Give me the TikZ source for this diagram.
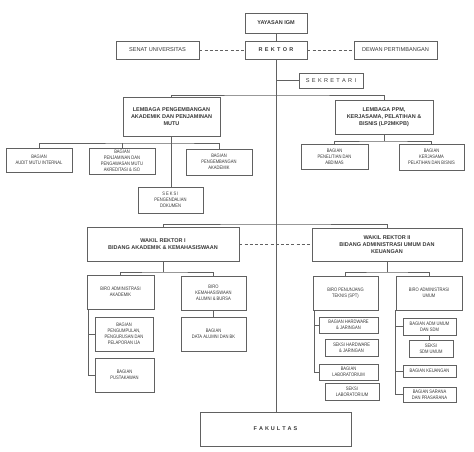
\documentclass[tikz,border=0pt]{standalone}
\usepackage{fontspec}
\setmainfont{Liberation Sans}
\newfontfamily\nf{Liberation Sans}[FakeStretch=0.82]
\definecolor{ink}{gray}{0.22}
\definecolor{lc}{gray}{0.38}
\newcommand{\lsk}{\kern2.3pt}
\tikzset{
  box/.style={draw=lc, line width=0.6pt, inner sep=0.5pt, align=center, text=ink},
  sm/.style={box, font=\nf\fontsize{5}{5.9}\selectfont},
  md/.style={box, font=\fontsize{5.6}{6.6}\selectfont},
  ttl/.style={box, font=\bfseries\fontsize{5.5}{6.9}\selectfont},
  ln/.style={draw=lc, line width=0.55pt},
  dsh/.style={ln, dash pattern=on 3pt off 2.2pt},
}
\begin{document}
\begin{tikzpicture}[x=1pt,y=-1pt]
\useasboundingbox (0,0) rectangle (474,451);
\fill[white] (0,0) rectangle (474,451);
% top
\node[ttl, minimum width=62pt, minimum height=20pt] (yayasan) at (276,23) {YAYASAN IGM};
\node[ttl, minimum width=62pt, minimum height=18pt] (rektor) at (276,50) {R\lsk E\lsk K\lsk T\lsk O\lsk R};
\node[md, minimum width=83pt, minimum height=18pt] (senat) at (157.5,50) {SENAT UNIVERSITAS};
\node[md, minimum width=83pt, minimum height=18pt] (dewan) at (395.5,50) {DEWAN PERTIMBANGAN};
\node[md, minimum width=64pt, minimum height=15pt] (sekretari) at (331,80.5) {S\lsk E\lsk K\lsk R\lsk E\lsk T\lsk A\lsk R\lsk I};
% lembaga
\node[ttl, minimum width=97pt, minimum height=39pt] (lpam) at (171.5,116.5) {LEMBAGA PENGEMBANGAN\\AKADEMIK DAN PENJAMINAN\\MUTU};
\node[ttl, minimum width=98pt, minimum height=34pt] (lppm) at (384,117) {LEMBAGA PPM,\\KERJASAMA, PELATIHAN \&\\BISNIS (LP2MKPB)};
\node[sm, minimum width=66pt, minimum height=24pt] (audit) at (39,160) {BAGIAN\\AUDIT MUTU INTERNAL};
\node[sm, minimum width=66pt, minimum height=26pt] (penjaminan) at (122,161) {BAGIAN\\PENJAMINAN DAN\\PENGAWASAN MUTU\\AKREDITASI \& ISO};
\node[sm, minimum width=66pt, minimum height=26pt] (pengembangan) at (219,162) {BAGIAN\\PENGEMBANGAN\\AKADEMIK};
\node[sm, minimum width=65pt, minimum height=26pt] (seksipd) at (170.5,200) {S\kern1pt E\kern1pt K\kern1pt S\kern1pt I\\PENGENDALIAN\\DOKUMEN};
\node[sm, minimum width=67pt, minimum height=25pt] (penelitian) at (334.5,156.5) {BAGIAN\\PENELITIAN DAN\\ABDIMAS};
\node[sm, minimum width=65pt, minimum height=26pt] (kerjasama) at (431.5,157) {BAGIAN\\KERJASAMA\\PELATIHAN DAN BISNIS};
% wakil rektor
\node[ttl, minimum width=152pt, minimum height=34pt] (wr1) at (163,244) {WAKIL REKTOR I\\BIDANG AKADEMIK \& KEMAHASISWAAN};
\node[ttl, minimum width=150pt, minimum height=33pt] (wr2) at (387,244.5) {WAKIL REKTOR II\\BIDANG ADMINISTRASI UMUM DAN\\KEUANGAN};
\node[sm, minimum width=67pt, minimum height=34pt] (biroakad) at (120.5,292) {BIRO ADMINISTRASI\\AKADEMIK};
\node[sm, minimum width=65pt, minimum height=34pt] (birokema) at (213.5,293) {BIRO\\KEMAHASISWAAN\\ALUMNI \& BURSA};
\node[sm, minimum width=58pt, minimum height=34pt] (pengumpulan) at (124,334) {BAGIAN\\PENGUMPULAN,\\PENGURUSAN DAN\\PELAPORAN IJA};
\node[sm, minimum width=59pt, minimum height=34pt] (pustakawan) at (124.5,375) {BAGIAN\\PUSTAKAWAN};
\node[sm, minimum width=65pt, minimum height=34pt] (dataalumni) at (213.5,334) {BAGIAN\\DATA ALUMNI DAN BK};
\node[sm, minimum width=65pt, minimum height=34pt] (spt) at (345.5,293) {BIRO PENUNJANG\\TEKNIS (SPT)};
\node[sm, minimum width=66pt, minimum height=34pt] (biroumum) at (429,293) {BIRO ADMINISTRASI\\UMUM};
\node[sm, minimum width=59pt, minimum height=16pt] (hardware) at (348.5,325) {BAGIAN HARDWARE\\\& JARINGAN};
\node[sm, minimum width=53pt, minimum height=17pt] (seksihw) at (351.5,347.5) {SEKSI HARDWARE\\\& JARINGAN};
\node[sm, minimum width=59pt, minimum height=16pt] (lab) at (348.5,372) {BAGIAN\\LABORATORIUM};
\node[sm, minimum width=54pt, minimum height=17pt] (seksilab) at (352,391.5) {SEKSI\\LABORATORIUM};
\node[sm, minimum width=53pt, minimum height=17pt] (admumum) at (429.5,326.5) {BAGIAN ADM UMUM\\DAN SDM};
\node[sm, minimum width=44pt, minimum height=17pt] (seksisdm) at (431,348.5) {SEKSI\\SDM UMUM};
\node[sm, minimum width=53pt, minimum height=12pt] (keuangan) at (429.5,371) {BAGIAN KEUANGAN};
\node[sm, minimum width=53pt, minimum height=15pt] (sarana) at (429.5,394.5) {BAGIAN SARANA\\DAN PRASARANA};
\node[ttl, minimum width=151pt, minimum height=34pt] (fakultas) at (275.5,429) {F\kern2pt A\kern2pt K\kern2pt U\kern2pt L\kern2pt T\kern2pt A\kern2pt S};
% coordinates
\coordinate (b1) at (276,95);
\coordinate (b2) at (170,143);
\coordinate (b3) at (384,141);
\coordinate (b4) at (276,224);
\coordinate (b5) at (163,272);
\coordinate (b6) at (387,272);
\coordinate (a0) at ([xshift=2pt]biroakad.south west);
\coordinate (s0) at ([xshift=1.5pt]spt.south west);
\coordinate (u0) at ([xshift=-0.5pt]biroumum.south west);
% connectors
\draw[ln] (yayasan) -- (rektor);
\draw[ln] (rektor.south) -- (rektor.south |- fakultas.north);
\draw[dsh] (senat) -- (rektor);
\draw[dsh] (rektor) -- (dewan);
\draw[ln] (rektor.south |- sekretari.west) -- (sekretari.west);
\draw[ln] (lpam.north) |- (b1) -| (lppm.north);
\draw[ln] (lpam.south) -- (lpam.south |- seksipd.north);
\draw[ln] (audit.north) |- (b2) -| (pengembangan.north);
\draw[ln] (penjaminan.north) -- (penjaminan.north |- b2);
\draw[ln] (lppm.south) -- (b3);
\draw[ln] (penelitian.north) |- (b3) -| (kerjasama.north);
\draw[ln] (wr1.north) |- (b4) -| (wr2.north);
\draw[dsh] (wr1.east) -- (wr1.east -| wr2.west);
\draw[ln] (wr1.south) -- (b5);
\draw[ln] (biroakad.north) |- (b5) -| (birokema.north);
\draw[ln] (birokema.south) -- (dataalumni.north);
\draw[ln] (a0) |- (pengumpulan.west);
\draw[ln] (a0) |- (pustakawan.west);
\draw[ln] (wr2.south) -- (b6);
\draw[ln] (spt.north) |- (b6) -| (biroumum.north);
\draw[ln] (s0) |- (hardware.west);
\draw[ln] (s0) |- (lab.west);
\draw[ln] (u0) |- (admumum.west);
\draw[ln] (u0) |- (keuangan.west);
\draw[ln] (u0) |- (sarana.west);
\draw[ln] (admumum.south) -- (admumum.south |- seksisdm.north);
\end{tikzpicture}
\end{document}
